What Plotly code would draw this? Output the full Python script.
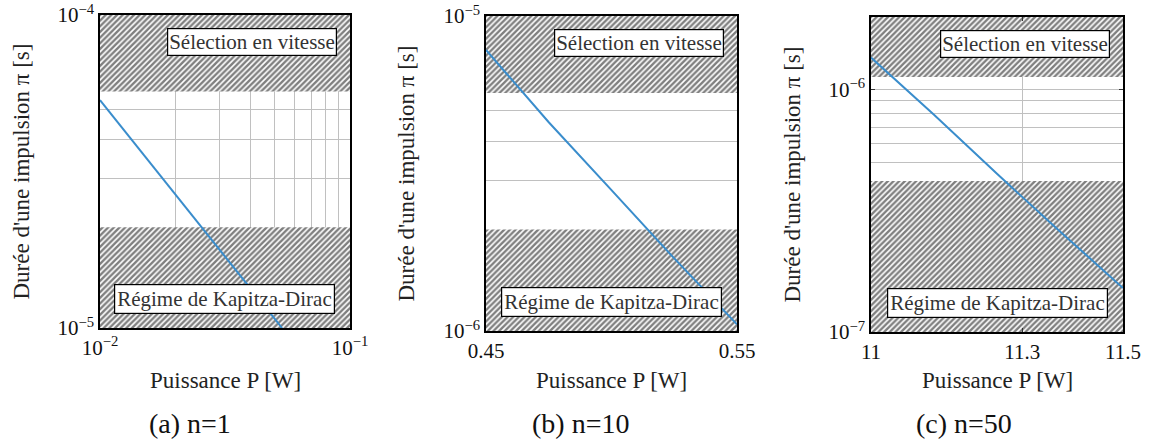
import math
import plotly.graph_objects as go

W, H = 1151, 439

# ---- data ----
P_a = [0.01, 0.0259, 0.0535]
tau_a = [5.35e-5, 2.07e-5, 1.0e-5]
P_b = [0.45, 0.475, 0.50, 0.525, 0.55]
tau_b = [7.8e-6, 4.6e-6, 2.8e-6, 1.7e-6, 1.05e-6]
P_c = [11.0, 11.125, 11.25, 11.375, 11.5]
tau_c = [1.36e-6, 7.9e-7, 4.5e-7, 2.6e-7, 1.52e-7]

xlim_a = [0.01, 0.1]
ylim_a = [1e-5, 1e-4]
xlim_b = [0.45, 0.55]
ylim_b = [1e-6, 1e-5]
xlim_c = [11.0, 11.5]
ylim_c = [1e-7, 2e-6]

upper_a = [5.7e-5, 1e-4]
lower_a = [1e-5, 2.1e-5]
upper_b = [5.7e-6, 1e-5]
lower_b = [1e-6, 2.1e-6]
upper_c = [1.13e-6, 2e-6]
lower_c = [1e-7, 4.2e-7]

xticks_a = [0.01, 0.1]
xlabels_a = ["10<sup>−2</sup>", "10<sup>−1</sup>"]
yticks_a = [1e-5, 1e-4]
ylabels_a = ["10<sup>−5</sup>", "10<sup>−4</sup>"]
xticks_b = [0.45, 0.55]
xlabels_b = ["0.45", "0.55"]
yticks_b = [1e-6, 1e-5]
ylabels_b = ["10<sup>−6</sup>", "10<sup>−5</sup>"]
xticks_c = [11.0, 11.3, 11.5]
xlabels_c = ["11", "11.3", "11.5"]
yticks_c = [1e-7, 1e-6]
ylabels_c = ["10<sup>−7</sup>", "10<sup>−6</sup>"]

xminor_a = [0.02, 0.03, 0.04, 0.05, 0.06, 0.07, 0.08, 0.09]
yminor_a = [2e-5, 3e-5, 4e-5, 5e-5, 6e-5, 7e-5, 8e-5, 9e-5]
xminor_b = []
yminor_b = [2e-6, 3e-6, 4e-6, 5e-6, 6e-6, 7e-6, 8e-6, 9e-6]
xminor_c = []
yminor_c = [2e-7, 3e-7, 4e-7, 5e-7, 6e-7, 7e-7, 8e-7, 9e-7, 2e-6]

captions = ["(a) n=1", "(b) n=10", "(c) n=50"]
xtitle = "Puissance P [W]"
ytitle = "Durée d'une impulsion π [s]"
top_label = "Sélection en vitesse"
bottom_label = "Régime de Kapitza-Dirac"

# ---- layout geometry (pixels) ----
boxes = [  # x0, x1, y0(top), y1(bottom)
    (100, 350, 15, 328),
    (486, 737, 16, 331),
    (871, 1123, 17, 332),
]
cap_x = [190, 580, 964]
ytitle_x = [21, 406, 792]

FONT = "Liberation Serif"
LINE = "#3a8dcc"
GRID = "#c0c0c0"

panels = [
    (P_a, tau_a, xlim_a, ylim_a, upper_a, lower_a, xticks_a, xlabels_a, yticks_a, ylabels_a, xminor_a, yminor_a, "log"),
    (P_b, tau_b, xlim_b, ylim_b, upper_b, lower_b, xticks_b, xlabels_b, yticks_b, ylabels_b, xminor_b, yminor_b, "linear"),
    (P_c, tau_c, xlim_c, ylim_c, upper_c, lower_c, xticks_c, xlabels_c, yticks_c, ylabels_c, xminor_c, yminor_c, "linear"),
]

fig = go.Figure()
layout = dict(
    width=W, height=H, margin=dict(l=0, r=0, t=0, b=0, autoexpand=False),
    paper_bgcolor="white", plot_bgcolor="white", showlegend=False,
    font=dict(family=FONT, color="#111"),
)
annotations = []

for i, (P, tau, xl, yl, up, lo, xt, xlab, yt, ylab, xm, ym, xtype) in enumerate(panels):
    n = "" if i == 0 else str(i + 1)
    xa, ya = "x" + n, "y" + n
    x0, x1, y0, y1 = boxes[i]
    for band in (up, lo):
        fig.add_trace(go.Scatter(
            x=[xl[0], xl[1], xl[1], xl[0], xl[0]],
            y=[band[0], band[0], band[1], band[1], band[0]],
            mode="lines", line=dict(width=0), fill="toself",
            fillpattern=dict(shape="/", size=4, solidity=0.6,
                             fgcolor="#000000", bgcolor="white"),
            xaxis=xa, yaxis=ya, hoverinfo="skip"))
    fig.add_trace(go.Scatter(x=P, y=tau, mode="lines",
                             line=dict(color=LINE, width=2),
                             xaxis=xa, yaxis=ya))

    if xtype == "log":
        xr = [math.log10(xl[0]), math.log10(xl[1])]
    else:
        xr = list(xl)
    yr = [math.log10(yl[0]), math.log10(yl[1])]

    common = dict(showline=True, mirror="ticks", linecolor="black", linewidth=1.5,
                  showgrid=True, gridcolor=GRID, gridwidth=1,
                  zeroline=False, ticks="inside", ticklen=4, tickwidth=1,
                  tickcolor="#333", tickmode="array", automargin=False,
                  tickfont=dict(family=FONT, size=21, color="#111"))
    layout["xaxis" + n] = dict(common, type=xtype, range=xr,
                               tickvals=xt, ticktext=xlab,
                               minor=dict(tickmode="array", tickvals=xm, showgrid=True,
                                          gridcolor=GRID, gridwidth=1, ticks=""),
                               domain=[x0 / W, x1 / W], anchor=ya)
    layout["yaxis" + n] = dict(common, type="log", range=yr,
                               tickvals=yt, ticktext=ylab,
                               minor=dict(tickmode="array", tickvals=ym, showgrid=True,
                                          gridcolor=GRID, gridwidth=1, ticks=""),
                               domain=[1 - y1 / H, 1 - y0 / H], anchor=xa)

    annotations.append(dict(
        text=top_label, xref=xa + " domain", yref=ya + " domain",
        x=1, y=1, xanchor="right", yanchor="top", xshift=-13, yshift=-13,
        showarrow=False, bgcolor="white", bordercolor="black", borderwidth=1.2,
        borderpad=1, font=dict(family=FONT, size=21, color="#333")))
    annotations.append(dict(
        text=bottom_label, xref=xa + " domain", yref=ya + " domain",
        x=1, y=0, xanchor="right", yanchor="bottom", xshift=-15, yshift=14,
        showarrow=False, bgcolor="white", bordercolor="black", borderwidth=1.2,
        borderpad=2, font=dict(family=FONT, size=21, color="#333")))
    annotations.append(dict(
        text=xtitle, xref="paper", yref="paper",
        x=(x0 + x1) / 2 / W, y=1 - 380 / H, xanchor="center", yanchor="middle",
        showarrow=False, font=dict(family=FONT, size=23, color="#222")))
    annotations.append(dict(
        text=ytitle, xref="paper", yref="paper", textangle=-90,
        x=ytitle_x[i] / W, y=1 - (y0 + y1) / 2 / H, xanchor="center", yanchor="middle",
        showarrow=False, font=dict(family=FONT, size=23, color="#222")))
    annotations.append(dict(
        text=captions[i], xref="paper", yref="paper",
        x=cap_x[i] / W, y=1 - 423 / H, xanchor="center", yanchor="middle",
        showarrow=False, font=dict(family=FONT, size=28, color="#111")))

layout["annotations"] = annotations
fig.update_layout(**layout)
fig.write_html("out.html", config={"displayModeBar": False},
               post_script="document.body.style.margin='0px';document.body.style.overflow='hidden';")
